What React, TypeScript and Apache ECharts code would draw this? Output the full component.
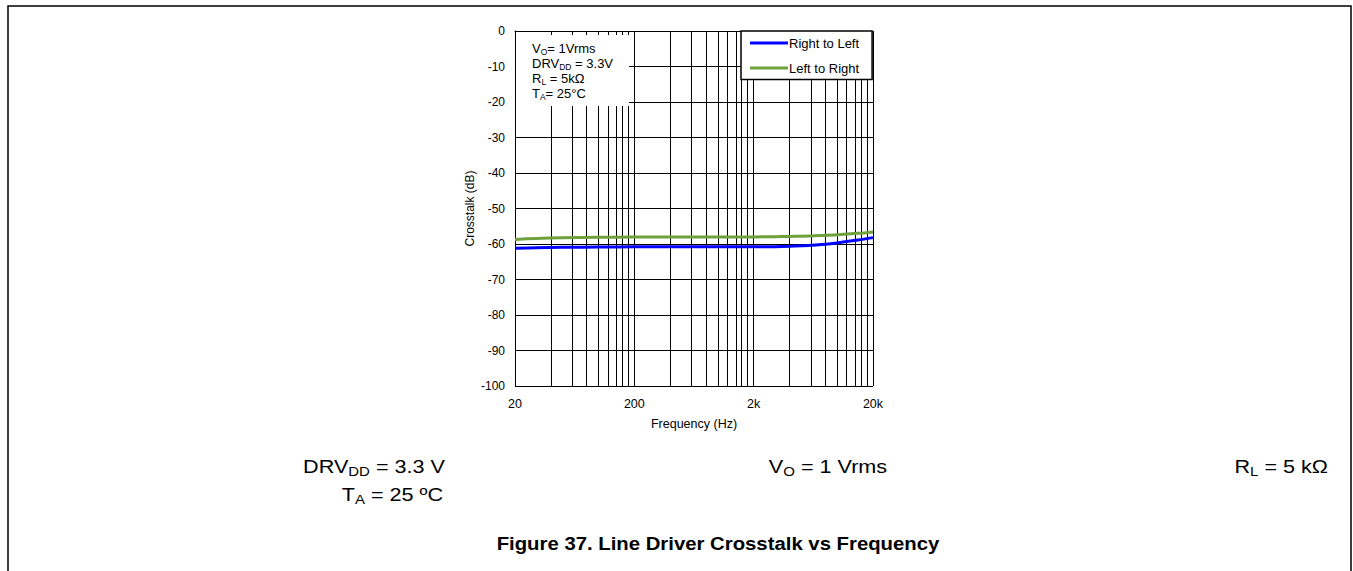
import React, { useEffect, useRef } from "react";
import * as echarts from "echarts";

const FONT = "'Liberation Sans', Arial, Helvetica, sans-serif";

const freqs = [20, 30, 50, 100, 200, 500, 1000, 2000, 3000, 4000, 5000, 7000, 10000, 15000, 20000];
const rightToLeft = [-61.2, -61.05, -60.95, -60.85, -60.8, -60.8, -60.8, -60.8, -60.75, -60.65, -60.5, -60.2, -59.7, -58.9, -58.2];
const leftToRight = [-58.7, -58.45, -58.25, -58.1, -58.05, -58.0, -58.0, -58.0, -57.95, -57.88, -57.8, -57.62, -57.4, -57.0, -56.6];

const xTickLabels = ["20", "200", "2k", "20k"];
const gridMultipliers = [2, 3, 4, 5, 6, 7, 8, 9, 10];
const gridDecades = [20, 200, 2000];

const seriesNames = ["Right to Left", "Left to Right"];
const seriesColors = ["#0000ff", "#70a03c"];

const toX = (f: number) => Math.log10(f / 20);

export default function App() {
  const ref = useRef<HTMLDivElement>(null);

  useEffect(() => {
    if (!ref.current) return;
    const chart = echarts.init(ref.current, undefined, { renderer: "svg" });

    const gridFreqs: number[] = [];
    gridDecades.forEach((d) => gridMultipliers.forEach((m) => gridFreqs.push(d * m)));

    const sub13 = {
      n: { fontSize: 13, fontFamily: FONT, color: "#000", lineHeight: 15, verticalAlign: "middle" },
      s: { fontSize: 8.5, fontFamily: FONT, color: "#000", lineHeight: 8, verticalAlign: "bottom" },
    };
    const sub18 = {
      n: { fontSize: 18, fontFamily: FONT, color: "#000", lineHeight: 22, verticalAlign: "middle" },
      s: { fontSize: 12.5, fontFamily: FONT, color: "#000", lineHeight: 12, verticalAlign: "bottom" },
    };
    const bottomScale = 1.2;

    const option: any = {
      animation: false,
      backgroundColor: "#fff",
      textStyle: { fontFamily: FONT },
      grid: { left: 515, right: 480, top: 31, bottom: 185, containLabel: false },
      xAxis: {
        type: "value",
        min: 0,
        max: 3,
        interval: 1,
        name: "Frequency (Hz)",
        nameLocation: "middle",
        nameGap: 31,
        nameTextStyle: { fontSize: 12.5, color: "#000", fontFamily: FONT },
        axisLine: { show: true, lineStyle: { color: "#000", width: 1 } },
        axisTick: { show: false },
        splitLine: { show: false },
        axisLabel: {
          margin: 11,
          fontSize: 12.5,
          color: "#000",
          fontFamily: FONT,
          formatter: (v: number) => xTickLabels[Math.round(v)] ?? "",
        },
      },
      yAxis: {
        type: "value",
        min: -100,
        max: 0,
        interval: 10,
        name: "Crosstalk (dB)",
        nameLocation: "middle",
        nameGap: 39,
        nameRotate: 90,
        nameTextStyle: { fontSize: 12, color: "#000", fontFamily: FONT },
        axisLine: { show: true, lineStyle: { color: "#000", width: 1 } },
        axisTick: { show: false },
        splitLine: { show: true, lineStyle: { color: "#000", width: 1 } },
        axisLabel: { margin: 10, fontSize: 12, color: "#000", fontFamily: FONT },
      },
      legend: {
        orient: "vertical",
        left: 741,
        top: 31,
        padding: [5.5, 13, 5, 9],
        itemGap: 12,
        itemWidth: 38,
        itemHeight: 3,
        icon: "rect",
        borderColor: "#000",
        borderWidth: 1.5,
        backgroundColor: "#fff",
        textStyle: { fontSize: 13, color: "#000", fontFamily: FONT, padding: [0, 0, 0, -4] },
        data: seriesNames,
        z: 20,
      },
      series: [
        {
          name: "grid",
          type: "line",
          data: [],
          silent: true,
          markLine: {
            silent: true,
            symbol: "none",
            label: { show: false },
            lineStyle: { color: "#000", width: 1, type: "solid" },
            data: gridFreqs.map((f) => ({ xAxis: toX(f) })),
          },
          z: 1,
        },
        {
          name: seriesNames[0],
          type: "line",
          data: freqs.map((f, i) => [toX(f), rightToLeft[i]]),
          showSymbol: false,
          smooth: 0.3,
          lineStyle: { color: seriesColors[0], width: 3 },
          itemStyle: { color: seriesColors[0] },
          z: 5,
        },
        {
          name: seriesNames[1],
          type: "line",
          data: freqs.map((f, i) => [toX(f), leftToRight[i]]),
          showSymbol: false,
          smooth: 0.3,
          lineStyle: { color: seriesColors[1], width: 3 },
          itemStyle: { color: seriesColors[1] },
          z: 5,
        },
      ],
      graphic: [
        {
          type: "polyline",
          z: 50,
          shape: { points: [[8, 571], [8, 6], [1351, 6], [1351, 571]] },
          style: { stroke: "#000", lineWidth: 1.5, fill: null },
        },
        {
          type: "rect",
          z: 50,
          shape: { x: 516, y: 35, width: 113, height: 71 },
          style: { fill: "#fff", stroke: null },
        },
        {
          type: "text",
          z: 51,
          x: 532,
          y: 41,
          style: {
            text: "{n|V}{s|O}{n|= 1Vrms}\n{n|DRV}{s|DD}{n| = 3.3V}\n{n|R}{s|L}{n| = 5kΩ}\n{n|T}{s|A}{n|= 25°C}",
            rich: sub13,
            fill: "#000",
          },
        },
        {
          type: "text",
          z: 51,
          x: 445,
          y: 456,
          scaleX: bottomScale,
          style: { text: "{n|DRV}{s|DD}{n| = 3.3 V}", rich: sub18, align: "right", fill: "#000" },
        },
        {
          type: "text",
          z: 51,
          x: 443,
          y: 484,
          scaleX: bottomScale,
          style: { text: "{n|T}{s|A}{n| = 25 ºC}", rich: sub18, align: "right", fill: "#000" },
        },
        {
          type: "text",
          z: 51,
          x: 828,
          y: 456,
          scaleX: bottomScale,
          style: { text: "{n|V}{s|O}{n| = 1 Vrms}", rich: sub18, align: "center", fill: "#000" },
        },
        {
          type: "text",
          z: 51,
          x: 1328,
          y: 456,
          scaleX: bottomScale,
          style: { text: "{n|R}{s|L}{n| = 5 kΩ}", rich: sub18, align: "right", fill: "#000" },
        },
        {
          type: "text",
          z: 51,
          x: 718,
          y: 544,
          scaleX: 1.13,
          style: {
            text: "Figure 37. Line Driver Crosstalk vs Frequency",
            font: `bold 18px ${FONT}`,
            fill: "#000",
            align: "center",
            verticalAlign: "middle",
          },
        },
      ],
    };

    chart.setOption(option);
    return () => chart.dispose();
  }, []);

  return (
    <div
      ref={ref}
      style={{ position: "absolute", left: 0, top: 0, width: 1353, height: 571, background: "#fff" }}
    />
  );
}
